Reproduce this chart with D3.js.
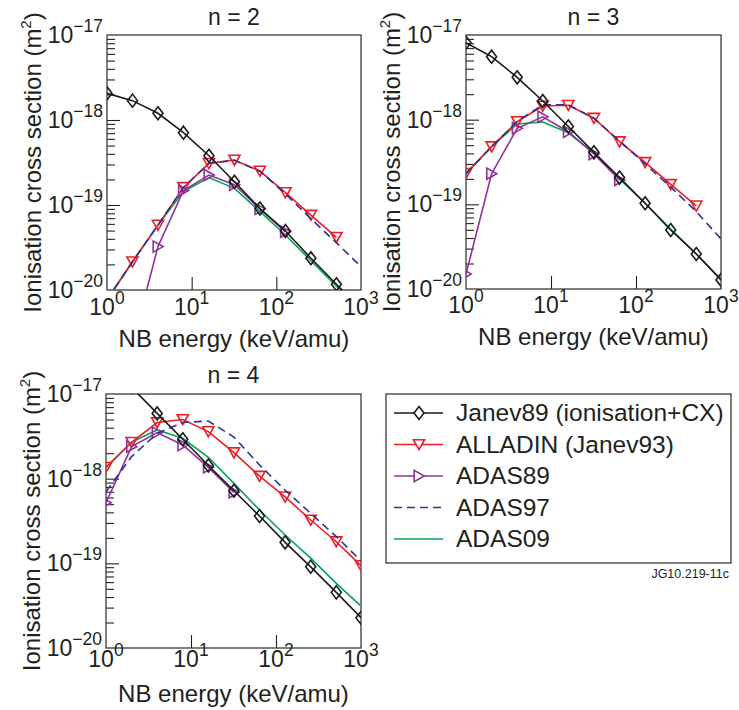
<!DOCTYPE html>
<html>
<head>
<meta charset="utf-8">
<script src="https://cdn.jsdelivr.net/npm/d3@7"></script>
<style>
  html, body { margin: 0; padding: 0; background: #fff; }
  svg { display: block; }
  text { font-family: "Liberation Sans", Arial, Helvetica, sans-serif; fill: #231f20; }
</style>
</head>
<body>
<svg id="chart" width="739" height="710"></svg>
<script>
// ---------------- DATA ----------------
const energy = [1, 2, 4, 8, 16, 32, 64, 128, 256, 512, 1000]; // keV/amu
const panelTitles = ["n = 2", "n = 3", "n = 4"];
const seriesNames = ["Janev89 (ionisation+CX)", "ALLADIN (Janev93)", "ADAS89", "ADAS97", "ADAS09"];
const xTickExponents = [0, 1, 2, 3];
const yTickExponents = [-17, -18, -19, -20];
const footnote = "JG10.219-11c";

// n = 2
const janev_n2   = [2.06e-18, 1.69e-18, 1.20e-18, 7.1e-19, 3.8e-19, 1.88e-19, 9.1e-20, 4.94e-20, 2.36e-20, 1.17e-20, 6.0e-21];
const alladin_n2 = [7.7e-21, 2.15e-20, 5.8e-20, 1.61e-19, 3.09e-19, 3.38e-19, 2.51e-19, 1.40e-19, 7.6e-20, 4.17e-20, null];
const adas89_n2  = [null, 2.3e-21, 3.24e-20, 1.48e-19, 2.25e-19, 1.73e-19, 9.0e-20, 4.85e-20, null, null, null];
const adas97_n2  = [7.7e-21, 2.15e-20, 5.8e-20, 1.6e-19, 3.1e-19, 3.35e-19, 2.5e-19, 1.35e-19, 6.9e-20, 3.6e-20, 1.88e-20];
const adas09_n2  = [7.7e-21, 2.15e-20, 5.8e-20, 1.44e-19, 2.1e-19, 1.57e-19, 8.4e-20, 4.44e-20, 2.21e-20, 1.11e-20, 5.7e-21];

// n = 3
const janev_n3   = [8.1e-18, 5.55e-18, 3.16e-18, 1.66e-18, 8.3e-19, 4.11e-19, 2.07e-19, 1.03e-19, 4.98e-20, 2.59e-20, 1.28e-20];
const alladin_n3 = [2.32e-19, 4.8e-19, 9.5e-19, 1.45e-18, 1.48e-18, 1.04e-18, 5.5e-19, 3.13e-19, 1.72e-19, 9.6e-20, null];
const adas89_n3  = [1.5e-20, 2.3e-19, 7.9e-19, 1.08e-18, 7.2e-19, 3.93e-19, 1.94e-19, null, null, null, null];
const adas97_n3  = [2.3e-19, 4.8e-19, 9.5e-19, 1.5e-18, 1.5e-18, 1.04e-18, 5.6e-19, 3.0e-19, 1.6e-19, 8.2e-20, 3.9e-20];
const adas09_n3  = [2.3e-19, 4.8e-19, 8.9e-19, 9.4e-19, 7.0e-19, 4.0e-19, 2.0e-19, 1.03e-19, 5.1e-20, 2.6e-20, 1.3e-20];

// n = 4
const janev_n4   = [2.5e-17, 1.2e-17, 5.9e-18, 2.92e-18, 1.43e-18, 7.2e-19, 3.62e-19, 1.77e-19, 9.1e-20, 4.54e-20, 2.28e-20];
const alladin_n4 = [1.36e-18, 2.69e-18, 4.6e-18, 5.0e-18, 3.6e-18, 2.03e-18, 1.07e-18, 6.1e-19, 3.25e-19, 1.80e-19, 9.4e-20];
const adas89_n4  = [5.2e-19, 2.39e-18, 3.5e-18, 2.5e-18, 1.36e-18, 6.9e-19, null, null, null, null, null];
const adas97_n4  = [7.0e-19, 1.82e-18, 3.43e-18, 4.6e-18, 4.8e-18, 3.1e-18, 1.45e-18, 7.3e-19, 3.9e-19, 2.07e-19, 1.07e-19];
const adas09_n4  = [1.36e-18, 2.7e-18, 3.76e-18, 3.0e-18, 1.79e-18, 8.8e-19, 4.27e-19, 2.16e-19, 1.15e-19, 5.8e-20, 3.13e-20];

// ---------------- STYLE / LAYOUT ----------------
const seriesStyle = [
  { color: "#1a1a1a", marker: "diamond", dash: null },
  { color: "#ee1c25", marker: "tridown", dash: null },
  { color: "#92309a", marker: "triright", dash: null },
  { color: "#2e3192", marker: null, dash: "8,5" },
  { color: "#00a651", marker: null, dash: null }
];
const drawOrder = [4, 1, 2, 3, 0];

const panelData = [
  [janev_n2, alladin_n2, adas89_n2, adas97_n2, adas09_n2],
  [janev_n3, alladin_n3, adas89_n3, adas97_n3, adas09_n3],
  [janev_n4, alladin_n4, adas89_n4, adas97_n4, adas09_n4]
];
const panelBox = [
  { left: 107, top: 35, right: 361, bottom: 290, tickLab: 25, xTitle: 57, title: 10 },
  { left: 466, top: 35, right: 721, bottom: 289, tickLab: 24, xTitle: 56, title: 10 },
  { left: 106, top: 394, right: 361, bottom: 648, tickLab: 19, xTitle: 54, title: 11 }
];

const svg = d3.select("#chart");

function markerPath(type) {
  if (type === "diamond") return "M0,-6.5L5,0L0,6.5L-5,0Z";
  if (type === "tridown") return "M-5.6,-4.8L5.6,-4.8L0,5.2Z";
  if (type === "triright") return "M-4.8,-5.6L-4.8,5.6L5.2,0Z";
  return "";
}

const supText = (sel, base, exp, supSize) => {
  sel.append("tspan").text(base);
  sel.append("tspan").attr("dy", -11).attr("font-size", supSize).text(exp);
};

panelBox.forEach((b, pi) => {
  const x = d3.scaleLog().domain([1, 1000]).range([b.left, b.right]);
  const y = d3.scaleLog().domain([1e-20, 1e-17]).range([b.bottom, b.top]);
  const g = svg.append("g");

  const clipId = "clip" + pi;
  svg.append("clipPath").attr("id", clipId).append("rect")
    .attr("x", b.left).attr("y", b.top)
    .attr("width", b.right - b.left).attr("height", b.bottom - b.top);

  // minor y ticks
  const minorY = [];
  for (let e = -20; e < -17; e++) for (let m = 2; m <= 9; m++) minorY.push(m * Math.pow(10, e));
  g.append("g").attr("transform", `translate(${b.left},0)`)
    .call(d3.axisLeft(y).tickValues(minorY).tickSize(-8).tickFormat(""))
    .call(a => a.select(".domain").remove())
    .selectAll("line").attr("stroke", "#231f20").attr("stroke-width", 1.1);
  // major y ticks
  g.append("g").attr("transform", `translate(${b.left},0)`)
    .call(d3.axisLeft(y).tickValues([1e-18, 1e-19]).tickSize(-13).tickFormat(""))
    .call(a => a.select(".domain").remove())
    .selectAll("line").attr("stroke", "#231f20").attr("stroke-width", 1.1);
  // major x ticks
  g.append("g").attr("transform", `translate(0,${b.bottom})`)
    .call(d3.axisBottom(x).tickValues([10, 100]).tickSize(-13).tickFormat(""))
    .call(a => a.select(".domain").remove())
    .selectAll("line").attr("stroke", "#231f20").attr("stroke-width", 1.1);

  // frame
  g.append("rect").attr("x", b.left).attr("y", b.top)
    .attr("width", b.right - b.left).attr("height", b.bottom - b.top)
    .attr("fill", "none").attr("stroke", "#3a3a3a").attr("stroke-width", 1.3);

  // y tick labels
  yTickExponents.forEach(e => {
    const t = g.append("text").attr("x", b.left - 4).attr("y", y(Math.pow(10, e)) + 8)
      .attr("text-anchor", "end").attr("font-size", 23);
    supText(t, "10", "\u2212" + Math.abs(e), 17.5);
  });
  // x tick labels
  xTickExponents.forEach(e => {
    const t = g.append("text").attr("x", x(Math.pow(10, e))).attr("y", b.bottom + b.tickLab)
      .attr("text-anchor", "middle").attr("font-size", 23);
    supText(t, "10", String(e), 17.5);
  });

  // axis titles
  g.append("text").attr("x", (b.left + b.right) / 2).attr("y", b.bottom + b.xTitle)
    .attr("text-anchor", "middle").attr("font-size", 24).text("NB energy (keV/amu)");
  const yt = g.append("text")
    .attr("transform", `translate(${b.left - 66},${(b.top + b.bottom) / 2}) rotate(-90)`)
    .attr("text-anchor", "middle").attr("font-size", 24);
  yt.append("tspan").text("Ionisation cross section (m");
  yt.append("tspan").attr("dy", -10).attr("font-size", 15).text("2");
  yt.append("tspan").attr("dy", 10).text(")");

  // panel title
  g.append("text").attr("x", (b.left + b.right) / 2).attr("y", b.top - b.title)
    .attr("text-anchor", "middle").attr("font-size", 23).text(panelTitles[pi]);

  // series
  const plot = g.append("g").attr("clip-path", `url(#${clipId})`);
  drawOrder.forEach(si => {
    const vals = panelData[pi][si];
    const st = seriesStyle[si];
    const pts = energy.map((e, i) => ({ e, v: vals[i] }));
    const line = d3.line().defined(d => d.v != null).x(d => x(d.e)).y(d => y(d.v));
    plot.append("path").attr("d", line(pts)).attr("fill", "none")
      .attr("stroke", st.color).attr("stroke-width", 1.6)
      .attr("stroke-dasharray", st.dash);
    if (st.marker) {
      plot.selectAll(null).data(pts.filter(d => d.v != null)).enter().append("path")
        .attr("d", markerPath(st.marker))
        .attr("transform", d => `translate(${x(d.e)},${y(d.v)})`)
        .attr("fill", "none").attr("stroke", st.color).attr("stroke-width", 1.6);
    }
  });
});

// ---------------- LEGEND ----------------
const lg = svg.append("g");
lg.append("rect").attr("x", 386).attr("y", 394).attr("width", 345).attr("height", 169)
  .attr("fill", "none").attr("stroke", "#3a3a3a").attr("stroke-width", 1.3);
const rowY = d3.scalePoint().domain(seriesNames).range([413, 539]);
seriesNames.forEach((name, i) => {
  const st = seriesStyle[i];
  const yy = rowY(name);
  lg.append("line").attr("x1", 394).attr("x2", 443).attr("y1", yy).attr("y2", yy)
    .attr("stroke", st.color).attr("stroke-width", 1.6).attr("stroke-dasharray", st.dash);
  if (st.marker) {
    lg.append("path").attr("d", markerPath(st.marker)).attr("transform", `translate(419,${yy})`)
      .attr("fill", "#fff").attr("stroke", st.color).attr("stroke-width", 1.6);
  }
  lg.append("text").attr("x", 456).attr("y", yy + 8).attr("font-size", 24.5).text(name);
});
svg.append("text").attr("x", 729).attr("y", 578).attr("text-anchor", "end")
  .attr("font-size", 12.5).text(footnote);
</script>
</body>
</html>
